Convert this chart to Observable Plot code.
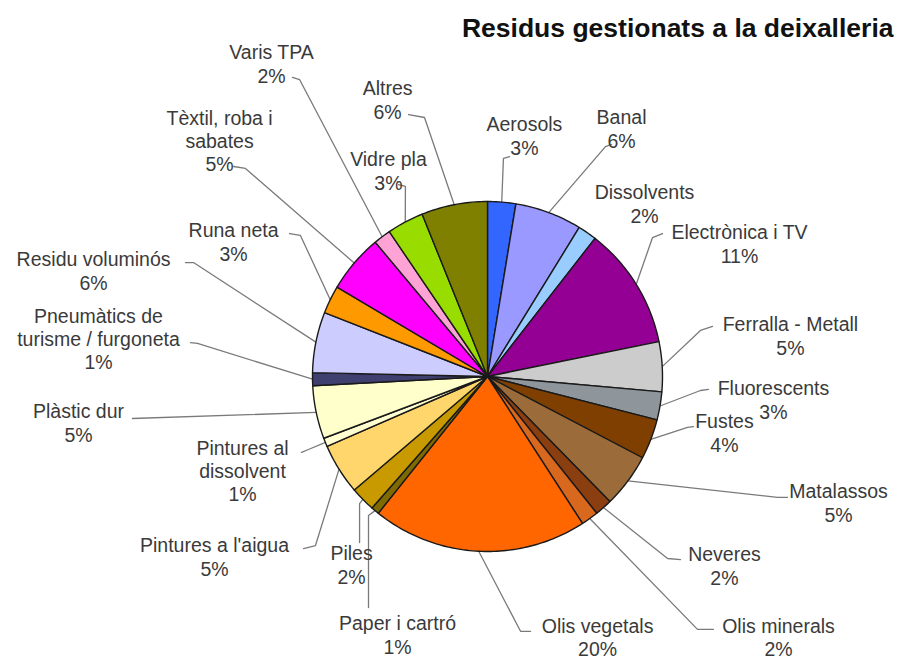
<!DOCTYPE html>
<html>
<head>
<meta charset="utf-8">
<script src="https://cdn.jsdelivr.net/npm/d3@7"></script>
<script src="https://cdn.jsdelivr.net/npm/@observablehq/plot@0.6"></script>
<style>
  html, body { margin: 0; padding: 0; background: #fff; }
</style>
</head>
<body>
<div id="chart"></div>
<script>
// ---------- data ----------
const title = "Residus gestionats a la deixalleria";
const categories = [
  "Aerosols", "Banal", "Dissolvents", "Electrònica i TV", "Ferralla - Metall",
  "Fluorescents", "Fustes", "Matalassos", "Neveres", "Olis minerals",
  "Olis vegetals", "Paper i cartró", "Piles", "Pintures a l'aigua",
  "Pintures al dissolvent", "Plàstic dur", "Pneumàtics de turisme / furgoneta",
  "Residu voluminós", "Runa neta", "Tèxtil, roba i sabates", "Varis TPA",
  "Vidre pla", "Altres"
];
// estimated shares (slice angles)
const values = [2.6, 6.2, 1.75, 11.3, 4.6, 2.6, 3.7, 5.0, 1.6, 1.6, 19.9, 0.75, 2.3, 4.7, 0.8, 4.9, 1.2, 5.6, 2.6, 5.4, 1.6, 3.4, 6.1];
// printed percentage labels
const pctLabels = [3, 6, 2, 11, 5, 3, 4, 5, 2, 2, 20, 1, 2, 5, 1, 5, 1, 6, 3, 5, 2, 3, 6];
// label text as printed (line breaks)
const labelText = [
  "Aerosols", "Banal", "Dissolvents", "Electrònica i TV", "Ferralla - Metall",
  "Fluorescents", "Fustes", "Matalassos", "Neveres", "Olis minerals",
  "Olis vegetals", "Paper i cartró", "Piles", "Pintures a l'aigua",
  "Pintures al\ndissolvent", "Plàstic dur", "Pneumàtics de\nturisme / furgoneta",
  "Residu voluminós", "Runa neta", "Tèxtil, roba i\nsabates", "Varis TPA",
  "Vidre pla", "Altres"
];
const colors = [
  "#3366ff", "#9999ff", "#99ccff", "#940094", "#cccccc",
  "#8f969b", "#7f3f00", "#9c6b3a", "#8b3f10", "#d8681e",
  "#ff6600", "#7f6a00", "#c99a00", "#ffd66b",
  "#ffffd0", "#ffffcc", "#3f3f70",
  "#ccccff", "#ff9900", "#ff00ff", "#ffa3d7",
  "#99dd00", "#808000"
];

// ---------- layout (in pie-radius units, centre = 0,0) ----------
const labelPos = [
  [0.211, 1.377], [0.766, 1.417], [0.897, 0.989], [1.44, 0.76], [1.731, 0.234],
  [1.634, -0.131], [1.354, -0.32], [2.006, -0.72], [1.354, -1.08], [1.663, -1.49],
  [0.629, -1.49], [-0.514, -1.475], [-0.777, -1.074], [-1.56, -1.029],
  [-1.4, -0.537], [-2.337, -0.263], [-2.223, 0.217],
  [-2.251, 0.606], [-1.451, 0.771], [-1.531, 1.349], [-1.234, 1.789],
  [-0.566, 1.177], [-0.571, 1.583]
];
// leader-line bends after leaving the slice edge
const leaderBends = [
  [[0.091, 1.246], [0.126, 1.257]],
  [[0.674, 1.314], [0.709, 1.326]],
  null,
  [[0.943, 0.794], [1.0, 0.817]],
  [[1.217, 0.263], [1.286, 0.286]],
  [[1.217, -0.08], [1.263, -0.074]],
  [[1.143, -0.291], [1.177, -0.286]],
  [[1.657, -0.691], [1.714, -0.691]],
  [[1.029, -1.04], [1.103, -1.046]],
  [[1.2, -1.445], [1.291, -1.445]],
  [[0.189, -1.456], [0.246, -1.456]],
  [[-0.68, -0.794], [-0.68, -1.32]],
  [[-0.731, -0.726], [-0.731, -0.949]],
  [[-0.983, -0.966], [-1.051, -0.983]],
  [[-1.023, -0.417], [-1.063, -0.434]],
  [[-2.029, -0.24]],
  [[-1.657, 0.189], [-1.697, 0.194]],
  [[-1.68, 0.651], [-1.726, 0.651]],
  [[-1.069, 0.806], [-1.131, 0.817]],
  [[-1.383, 1.189], [-1.451, 1.2]],
  [[-1.074, 1.697], [-1.114, 1.709]],
  [[-0.469, 1.086], [-0.509, 1.097]],
  [[-0.36, 1.48], [-0.451, 1.497]]
];

// ---------- derived geometry ----------
const W = 898, H = 661;
const cx = 487, cy = 376, R = 175; // pie centre / radius in the picture
const xDomain = [-cx / R, (W - cx) / R];
const yDomain = [-(H - cy) / R, cy / R];

const arcs = d3.pie().sort(null).value(d => d)(values);
const wedgeRows = [];
arcs.forEach((a, i) => {
  const name = categories[i];
  wedgeRows.push({name, x: 0, y: 0});
  const n = Math.max(2, Math.ceil((a.endAngle - a.startAngle) / (Math.PI / 180)));
  for (let k = 0; k <= n; k++) {
    const t = a.startAngle + (a.endAngle - a.startAngle) * k / n;
    wedgeRows.push({name, x: Math.sin(t), y: Math.cos(t)});
  }
  wedgeRows.push({name, x: 0, y: 0});
});

const leaderRows = [];
arcs.forEach((a, i) => {
  const bends = leaderBends[i];
  if (!bends) return;
  const m = (a.startAngle + a.endAngle) / 2;
  const name = categories[i];
  leaderRows.push({name, x: Math.sin(m), y: Math.cos(m)});
  bends.forEach(([x, y]) => leaderRows.push({name, x, y}));
});

const labelRows = categories.map((c, i) => ({
  name: c,
  text: labelText[i] + "\n" + pctLabels[i] + "%",
  x: labelPos[i][0],
  y: labelPos[i][1]
}));

const chart = Plot.plot({
  width: W,
  height: H,
  margin: 0,
  style: {fontFamily: "'Liberation Sans', Arial, sans-serif", background: "#fff"},
  x: {domain: xDomain, axis: null},
  y: {domain: yDomain, axis: null},
  color: {domain: categories, range: colors},
  marks: [
    Plot.line(leaderRows, {x: "x", y: "y", z: "name", stroke: "#7a7a7a", strokeWidth: 1.3, curve: "linear"}),
    Plot.line(wedgeRows, {x: "x", y: "y", z: "name", fill: "name", stroke: "#1a1a1a", strokeWidth: 1.4, curve: "linear"}),
    Plot.text(labelRows, {x: "x", y: "y", text: "text", fontSize: 19.5, lineHeight: 1.2, fill: "#3a3a3a", textAnchor: "middle", lineAnchor: "middle"}),
    Plot.text([title], {text: d => d, frameAnchor: "top-right", textAnchor: "end", lineAnchor: "top", dx: -5, dy: 18, fontSize: 26.5, fontWeight: "bold", fill: "#111"})
  ]
});
document.getElementById("chart").appendChild(chart);
</script>
</body>
</html>
